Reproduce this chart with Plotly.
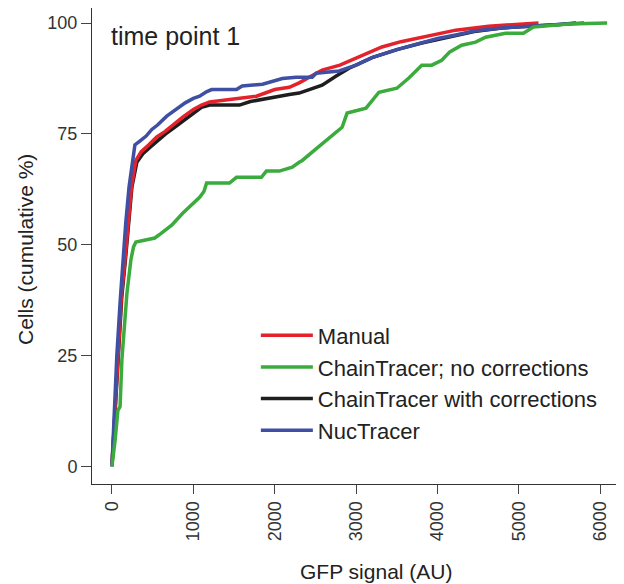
import plotly.graph_objects as go

# GFP signal (AU) vs cumulative % of cells
manual_x = [0, 30, 70, 115, 160, 200, 240, 294, 360, 450, 551, 650, 750, 869, 1000,
            1100, 1200, 1500, 1775, 2000, 2178, 2300, 2582, 2800, 2999, 3317, 3550,
            3806, 4000, 4223, 4627, 5000, 5240]
manual_y = [0, 10, 25, 38, 46.5, 56, 63, 69, 71, 72.5, 74.3, 75.5, 77, 78.8, 80.5,
            81.5, 82.2, 82.8, 83.5, 85, 85.5, 86.5, 89.4, 90.5, 92.1, 94.6, 95.8,
            96.8, 97.5, 98.4, 99.3, 99.8, 100]

chain_raw_x = [0, 40, 73, 100, 122, 150, 184, 232, 265, 294, 400, 526, 600, 734, 869,
               980, 1077, 1130, 1163, 1444, 1530, 1836, 1897, 2056, 2215, 2300, 2338,
               2500, 2668, 2827, 2889, 3000, 3121, 3280, 3500, 3647, 3806, 3929, 4051,
               4150, 4296, 4468, 4590, 4835, 5055, 5177, 5606, 6083]
chain_raw_y = [0, 6, 12.6, 13.5, 24, 32, 39, 46.5, 49.5, 50.6, 51, 51.5, 52.5, 54.4, 57.1,
               59, 60.7, 62, 63.9, 63.9, 65.2, 65.2, 66.6, 66.6, 67.5, 68.6, 69,
               71.5, 74, 76.5, 79.7, 80.3, 80.8, 84.4, 85.3, 87.6, 90.5, 90.5, 91.6,
               93.5, 95, 95.7, 96.8, 97.7, 97.7, 99.1, 99.8, 100]

chain_corr_x = [0, 30, 75, 120, 165, 205, 245, 306, 380, 470, 560, 660, 770, 880, 1000,
                1100, 1200, 1567, 1700, 1897, 2178, 2300, 2582, 2750, 2913, 3195, 3500,
                3806, 4000, 4223, 4450, 4786, 5197, 5500, 5700]
chain_corr_y = [0, 10, 25, 38, 46.5, 56, 63, 68.6, 70.5, 72, 73.5, 75, 76.5, 78, 79.8,
                81, 81.5, 81.5, 82.3, 83, 83.9, 84.2, 86, 88, 89.8, 92.2, 94,
                95.5, 96.3, 97.2, 98.1, 98.9, 99.3, 99.7, 100]

nuc_x = [0, 25, 60, 100, 135, 170, 210, 250, 282, 350, 420, 490, 560, 673, 780, 900,
         1000, 1077, 1160, 1224, 1530, 1600, 1850, 2093, 2264, 2460, 2509, 2790, 3000,
         3195, 3500, 3806, 4000, 4223, 4450, 4786, 5197, 5500, 5800]
nuc_y = [0, 12, 25, 37, 46.5, 55, 63, 68, 72.5, 73.5, 74.5, 76, 77, 79, 80.5, 82,
         83, 83.5, 84.5, 85, 85, 85.8, 86.2, 87.5, 87.8, 87.8, 88.7, 89.2, 90.5,
         92.2, 94, 95.5, 96.5, 97.3, 98.2, 98.9, 99.3, 99.6, 100]

x_ticks = [0, 1000, 2000, 3000, 4000, 5000, 6000]
y_ticks = [0, 25, 50, 75, 100]

FONT = "Arial, 'Liberation Sans', sans-serif"

# drawing order: black, red, blue, green (legend order set by legendrank)
series = [
    ("ChainTracer with corrections", chain_corr_x, chain_corr_y, "#1e1e1e", 3),
    ("Manual", manual_x, manual_y, "#e3222b", 1),
    ("NucTracer", nuc_x, nuc_y, "#3e4fa4", 4),
    ("ChainTracer; no corrections", chain_raw_x, chain_raw_y, "#3aab3c", 2),
]

fig = go.Figure()
for name, xs, ys, color, rank in series:
    fig.add_trace(go.Scatter(
        x=xs, y=ys, mode="lines", name=name,
        line=dict(color=color, width=3.5),
        legendrank=rank,
    ))

# page body adds an 8px offset, so the figure is 8px smaller than the window
fig.update_layout(
    width=616, height=576,
    margin=dict(l=84, r=0, t=0, b=100, autoexpand=False),
    plot_bgcolor="white", paper_bgcolor="white",
    font=dict(family=FONT, color="#222"),
    legend=dict(x=0.308, y=0.356, xanchor="left", yanchor="top",
                font=dict(size=22), bgcolor="rgba(0,0,0,0)",
                traceorder="normal", itemwidth=52),
)
fig.add_annotation(text="time point 1", x=0.032, y=0.941, xref="paper", yref="paper",
                   xanchor="left", yanchor="middle", showarrow=False,
                   font=dict(size=25, color="#222"))
fig.add_annotation(text="GFP signal (AU)", x=0.534, y=-0.183, xref="paper", yref="paper",
                   xanchor="center", yanchor="middle", showarrow=False,
                   font=dict(size=21, color="#222"))
fig.add_annotation(text="Cells (cumulative %)", x=-0.124, y=0.4916, xref="paper", yref="paper",
                   xanchor="center", yanchor="middle", textangle=-90, showarrow=False,
                   font=dict(size=21, color="#222"))

fig.update_xaxes(range=[-245, 6290], tickvals=x_ticks, ticktext=[str(v) for v in x_ticks],
                 tickangle=-90, ticks="outside", ticklen=9, tickcolor="#444",
                 tickfont=dict(size=18, color="#333"), automargin=False,
                 showline=True, linecolor="#333", linewidth=1, mirror=True,
                 showgrid=False, zeroline=False)
fig.update_yaxes(range=[-4, 103.4], tickvals=y_ticks, ticks="outside", ticklen=10,
                 tickcolor="#444", tickfont=dict(size=18, color="#333"), automargin=False,
                 showline=True, linecolor="#333", linewidth=1, mirror=False,
                 showgrid=False, zeroline=False)

fig.write_html("out.html")
